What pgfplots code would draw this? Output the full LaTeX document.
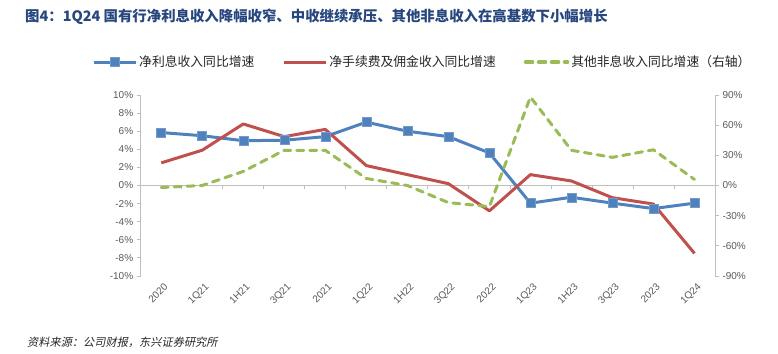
\documentclass[border=0pt]{standalone}
\usepackage{fontspec}
\usepackage{pgfplots}
\pgfplotsset{compat=1.18}
\setmainfont{Liberation Sans}
\newfontfamily\cjk{Noto Sans CJK SC}
\newfontfamily\cjkit[FakeSlant=0.2]{Noto Sans CJK SC}
\definecolor{sblue}{HTML}{4F81BD}
\definecolor{sred}{HTML}{C0504D}
\definecolor{sgreen}{HTML}{9BBB59}
\definecolor{titleblue}{RGB}{38,70,125}
\definecolor{axgray}{HTML}{BFBFBF}
\definecolor{lblgray}{HTML}{595959}
\begin{document}
\begin{tikzpicture}
\useasboundingbox (0,0) rectangle (778pt,353pt);
\node[anchor=base west, inner sep=0pt, text=titleblue] at (25pt,331pt)
  {\cjk\bfseries\fontsize{14.4}{16}\selectfont 图4：1Q24 国有行净利息收入降幅收窄、中收继续承压、其他非息收入在高基数下小幅增长};
\node[anchor=base west, inner sep=0pt, text=black!85] at (27pt,7pt)
  {\cjkit\fontsize{11.2}{13}\selectfont 资料来源：公司财报，东兴证券研究所};
\begin{axis}[
  at={(140.7pt,77pt)}, anchor=south west,
  width=574.3pt, height=181pt, scale only axis,
  xmin=-0.5, xmax=13.5, ymin=-10, ymax=10,
  axis y line*=left, axis x line*=bottom,
  x axis line style={draw=none},
  y axis line style={draw=axgray, line width=0.8pt},
  xtick={0,...,13},
  xticklabels={2020,1Q21,1H21,3Q21,2021,1Q22,1H22,3Q22,2022,1Q23,1H23,3Q23,2023,1Q24},
  major x tick style={draw=none},
  xticklabel style={rotate=45, anchor=north east, font=\fontsize{10}{12}\selectfont, text=lblgray, inner sep=1pt, yshift=-2pt, xshift=1pt},
  ytick={-10,-8,...,10},
  yticklabel={\pgfmathprintnumber{\tick}\%},
  yticklabel style={font=\fontsize{10}{12}\selectfont, text=lblgray},
  /pgf/number format/assume math mode=true,
  tick align=outside, major tick length=4pt,
  ytick style={draw=axgray, line width=0.8pt},
  clip=false,
  legend columns=3,
  legend style={draw=none, fill=none, at={(axis description cs:-0.0848,1.182)}, anchor=west,
    inner sep=0pt, font=\cjk\fontsize{12.8}{14}\selectfont, text=black!85,
    /tikz/every even column/.append style={column sep=26pt}},
  legend image code/.code={\draw[mark repeat=2,mark phase=2,#1] plot coordinates {(0pt,0pt) (21pt,0pt) (42pt,0pt)};},
]
\draw[axgray, line width=0.8pt] (axis cs:-0.5,0) -- (axis cs:13.5,0);
\pgfplotsinvokeforeach{0.5,1.5,2.5,3.5,4.5,5.5,6.5,7.5,8.5,9.5,10.5,11.5,12.5}{
  \draw[axgray, line width=0.8pt] (axis cs:#1,0) -- ([yshift=-4pt]axis cs:#1,0);
}
\addplot[sblue, line width=3pt, mark=square*, mark size=4.5pt, mark options={fill=sblue, draw=sblue!80!white, line width=0.5pt}]
  coordinates {(0,5.85) (1,5.5) (2,4.95) (3,5.0) (4,5.4) (5,7.0) (6,6.0) (7,5.4) (8,3.6) (9,-1.95) (10,-1.3) (11,-1.95) (12,-2.55) (13,-1.95)};
\addlegendentry{净利息收入同比增速}
\addplot[sred, line width=3pt, line join=round]
  coordinates {(0,2.5) (1,3.9) (2,6.8) (3,5.4) (4,6.2) (5,2.2) (6,1.2) (7,0.2) (8,-2.8) (9,1.2) (10,0.5) (11,-1.35) (12,-2.05) (13,-7.5)};
\addlegendentry{净手续费及佣金收入同比增速}
\addlegendimage{sgreen, line width=3.5pt, dash pattern=on 7pt off 6pt, line cap=round}
\addlegendentry{其他非息收入同比增速（右轴）}
\end{axis}
\begin{axis}[
  at={(140.7pt,77pt)}, anchor=south west,
  width=574.3pt, height=181pt, scale only axis,
  xmin=-0.5, xmax=13.5, ymin=-90, ymax=90,
  axis y line*=right, axis x line=none,
  y axis line style={draw=axgray, line width=0.8pt},
  ytick={-90,-60,...,90},
  yticklabel={\pgfmathprintnumber{\tick}\%},
  yticklabel style={font=\fontsize{10}{12}\selectfont, text=lblgray},
  /pgf/number format/assume math mode=true,
  tick align=outside, major tick length=4pt,
  ytick style={draw=axgray, line width=0.8pt},
  clip=false,
]
\addplot[sgreen, line width=3pt, dash pattern=on 7pt off 6pt, line cap=round, line join=round]
  coordinates {(0,-2) (1,0) (2,14) (3,35) (4,35) (5,7) (6,0) (7,-17) (8,-21) (9,88) (10,35) (11,28) (12,35.5) (13,6)};
\end{axis}
\end{tikzpicture}
\end{document}
